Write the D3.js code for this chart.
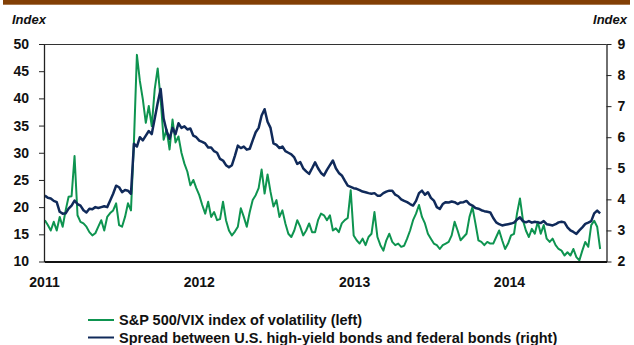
<!DOCTYPE html>
<html>
<head>
<meta charset="utf-8">
<script src="https://cdn.jsdelivr.net/npm/d3@7"></script>
<style>
  html, body { margin: 0; padding: 0; background: #fff; }
  svg { display: block; font-family: "Liberation Sans", Arial, sans-serif; }
</style>
</head>
<body>
<svg id="chart" width="634" height="345"></svg>
<script>
// Weekly observations, first week starting 3 Jan 2011
const firstWeek = new Date(2011, 0, 3);

// S&P 500 VIX index of volatility (left axis)
const vixValues = [
  17.6, 16.7, 15.7, 17.3, 15.7, 18.2, 16.4, 19.4, 21.9, 22.0,
  29.4, 18.5, 17.3, 17.0, 16.4, 15.4, 14.8, 15.2, 16.4, 17.6,
  15.7, 18.2, 18.9, 19.4, 20.7, 16.7, 16.4, 18.2, 20.7, 19.4,
  32.0, 48.0, 43.2, 39.8, 35.5, 38.6, 34.9, 41.7, 45.5, 39.8,
  32.4, 34.3, 30.6, 36.1, 31.9, 33.0, 30.0, 28.0, 26.5, 24.0,
  25.0, 23.5, 22.2, 20.4, 18.8, 21.0, 18.2, 19.1, 17.6, 17.8,
  21.0, 17.6, 15.7, 14.8, 15.5, 16.4, 19.8, 18.2, 16.4, 19.1,
  21.3, 22.2, 23.5, 26.9, 22.5, 26.0, 22.8, 20.1, 21.3, 18.2,
  19.4, 17.0, 15.1, 14.5, 15.7, 17.6, 16.4, 14.8, 15.7, 17.0,
  15.4, 15.4, 17.6, 18.8, 18.5, 17.6, 18.5, 15.7, 16.1, 15.4,
  17.0, 17.6, 18.0, 23.1, 14.8, 13.9, 13.3, 14.2, 13.0, 14.5,
  15.1, 19.1, 14.5, 13.0, 12.0, 13.9, 15.1, 13.6, 13.0, 13.3,
  12.7, 12.9, 14.2, 15.7, 17.6, 18.8, 20.4, 18.2, 17.0, 15.1,
  14.2, 13.3, 13.0, 12.3, 13.0, 13.3, 13.6, 14.8, 17.3, 15.7,
  13.9, 14.5, 15.1, 18.2, 20.0, 17.0, 13.9, 13.6, 13.0, 13.6,
  13.3, 13.3, 14.5, 15.7, 13.9, 12.3, 13.3, 14.8, 15.1, 18.8,
  21.6, 17.6, 15.7, 14.5, 16.0, 15.1, 17.3, 15.1, 16.7, 14.2,
  13.6, 14.2, 13.0, 12.3, 12.0, 11.1, 11.7, 11.1, 12.3, 10.8,
  10.2, 12.0, 13.6, 12.7, 16.7, 17.5, 16.4, 12.3
];

// Spread between U.S. high-yield bonds and federal bonds (right axis)
const spreadValues = [
  4.12, 4.05, 4.03, 3.95, 3.91, 3.60, 3.54, 3.55, 3.70, 3.80,
  3.96, 3.85, 3.80, 3.65, 3.58, 3.70, 3.68, 3.75, 3.72, 3.75,
  3.78, 3.75, 3.96, 4.18, 4.44, 4.39, 4.23, 4.30, 4.28, 4.18,
  5.79, 5.70, 6.00, 5.90, 6.05, 6.20, 6.10, 6.60, 7.10, 7.55,
  6.60, 6.20, 5.95, 6.30, 6.10, 6.45, 6.30, 6.35, 6.25, 6.28,
  6.05, 6.00, 5.89, 5.85, 5.80, 5.67, 5.67, 5.55, 5.50, 5.30,
  5.25, 5.10, 5.03, 5.10, 5.40, 5.73, 5.65, 5.70, 5.60, 5.63,
  5.90, 6.16, 6.30, 6.70, 6.90, 6.50, 6.30, 5.80, 5.75, 5.65,
  5.70, 5.55, 5.50, 5.45, 5.35, 5.14, 5.20, 5.00, 4.90, 4.82,
  5.00, 5.19, 5.00, 4.85, 4.77, 4.95, 5.10, 5.25, 5.00, 4.85,
  4.77, 4.60, 4.44, 4.40, 4.36, 4.34, 4.30, 4.25, 4.23, 4.20,
  4.18, 4.20, 4.12, 4.12, 4.20, 4.25, 4.28, 4.28, 4.15, 4.10,
  4.00, 3.95, 3.91, 3.85, 3.80, 3.95, 4.20, 4.28, 4.15, 4.23,
  4.05, 3.96, 3.75, 3.69, 3.85, 3.91, 3.90, 3.93, 3.91, 3.85,
  3.90, 3.91, 3.95, 3.85, 3.80, 3.72, 3.70, 3.65, 3.62, 3.60,
  3.58, 3.40, 3.26, 3.20, 3.16, 3.18, 3.20, 3.22, 3.25, 3.35,
  3.42, 3.30, 3.26, 3.30, 3.25, 3.28, 3.26, 3.24, 3.30, 3.20,
  3.18, 3.16, 3.20, 3.26, 3.28, 3.26, 3.10, 3.00, 2.95, 2.89,
  3.00, 3.10, 3.21, 3.25, 3.30, 3.55, 3.64, 3.55
];

const leftTicks = [10, 15, 20, 25, 30, 35, 40, 45, 50];
const rightTicks = [2, 3, 4, 5, 6, 7, 8, 9];
const yearTicks = [2011, 2012, 2013, 2014];
const seriesNames = [
  "S&P 500/VIX index of volatility (left)",
  "Spread between U.S. high-yield bonds and federal bonds (right)"
];
const seriesColors = ["#0e9450", "#102a5a"];

const svg = d3.select("#chart");
const plot = { left: 44, right: 606.5, top: 44, bottom: 261.5 };
const labelFont = "Liberation Sans, Arial, sans-serif";

const x = d3.scaleTime()
  .domain([new Date(2011, 0, 1), new Date(2014, 7, 19)])
  .range([plot.left, plot.right]);
const yLeft = d3.scaleLinear().domain([10, 50]).range([plot.bottom, plot.top]);
const yRight = d3.scaleLinear().domain([2, 9]).range([plot.bottom, plot.top]);

const weekDate = i => d3.timeWeek.offset(firstWeek, i);

// Brown header rule
svg.append("rect")
  .attr("x", 3).attr("y", 0).attr("width", 627).attr("height", 4.7)
  .attr("fill", "#823f05");

// Axis unit captions
svg.append("text")
  .attr("x", 12).attr("y", 24)
  .attr("font-size", 13).attr("font-weight", "bold").attr("font-style", "italic")
  .attr("fill", "#111").text("Index");
svg.append("text")
  .attr("x", 627).attr("y", 24).attr("text-anchor", "end")
  .attr("font-size", 13).attr("font-weight", "bold").attr("font-style", "italic")
  .attr("fill", "#111").text("Index");

// Top frame line
svg.append("line")
  .attr("x1", plot.left).attr("x2", plot.right)
  .attr("y1", plot.top + 0.5).attr("y2", plot.top + 0.5)
  .attr("stroke", "#333").attr("stroke-width", 1);

// Series lines
svg.append("clipPath").attr("id", "plotClip")
  .append("rect")
  .attr("x", plot.left).attr("y", plot.top)
  .attr("width", plot.right - plot.left).attr("height", plot.bottom - plot.top);

const lines = svg.append("g").attr("clip-path", "url(#plotClip)");

const vixLine = d3.line()
  .x((d, i) => x(weekDate(i)))
  .y(d => yLeft(d));
const spreadLine = d3.line()
  .x((d, i) => x(weekDate(i)))
  .y(d => yRight(d));

lines.append("path")
  .datum(vixValues)
  .attr("d", vixLine)
  .attr("fill", "none")
  .attr("stroke", seriesColors[0])
  .attr("stroke-width", 2)
  .attr("stroke-linejoin", "round");

lines.append("path")
  .datum(spreadValues)
  .attr("d", spreadLine)
  .attr("fill", "none")
  .attr("stroke", seriesColors[1])
  .attr("stroke-width", 2.5)
  .attr("stroke-linejoin", "round");

// Left axis
const leftAxis = svg.append("g")
  .attr("transform", `translate(${plot.left},0)`)
  .call(d3.axisLeft(yLeft).tickValues(leftTicks).tickSize(5).tickSizeOuter(0).tickPadding(10));
leftAxis.select(".domain").attr("stroke", "#222").attr("stroke-width", 1.3);
leftAxis.selectAll(".tick line").attr("stroke", "#222");
leftAxis.selectAll(".tick text")
  .attr("font-size", 14).attr("font-weight", "bold").attr("fill", "#111")
  .attr("font-family", labelFont);

// Right axis
const rightAxis = svg.append("g")
  .attr("transform", `translate(${plot.right},0)`)
  .call(d3.axisRight(yRight).tickValues(rightTicks).tickFormat(d3.format("d"))
    .tickSize(5).tickSizeOuter(0).tickPadding(6));
rightAxis.select(".domain").attr("stroke", "#222").attr("stroke-width", 1.3);
rightAxis.selectAll(".tick line").attr("stroke", "#222");
rightAxis.selectAll(".tick text")
  .attr("font-size", 14).attr("font-weight", "bold").attr("fill", "#111")
  .attr("font-family", labelFont);

// Bottom axis (year labels, no tick marks)
const bottomAxis = svg.append("g")
  .attr("transform", `translate(0,${plot.bottom})`)
  .call(d3.axisBottom(x)
    .tickValues(yearTicks.map(y => new Date(y, 0, 1)))
    .tickFormat(d3.timeFormat("%Y"))
    .tickSize(0).tickSizeOuter(0).tickPadding(16));
bottomAxis.select(".domain").attr("stroke", "#111").attr("stroke-width", 2);
bottomAxis.selectAll(".tick text")
  .attr("font-size", 14).attr("font-weight", "bold").attr("fill", "#111")
  .attr("font-family", labelFont);

// Legend
const legend = svg.append("g").attr("transform", "translate(88,320)");
seriesNames.forEach((name, i) => {
  const row = legend.append("g").attr("transform", `translate(0,${i * 17.5})`);
  row.append("line")
    .attr("x1", 0).attr("x2", 26).attr("y1", 0).attr("y2", 0)
    .attr("stroke", seriesColors[i]).attr("stroke-width", 2);
  row.append("text")
    .attr("x", 31).attr("y", 5)
    .attr("font-size", 14.5).attr("font-weight", "bold").attr("fill", "#111")
    .text(name);
});
</script>
</body>
</html>
